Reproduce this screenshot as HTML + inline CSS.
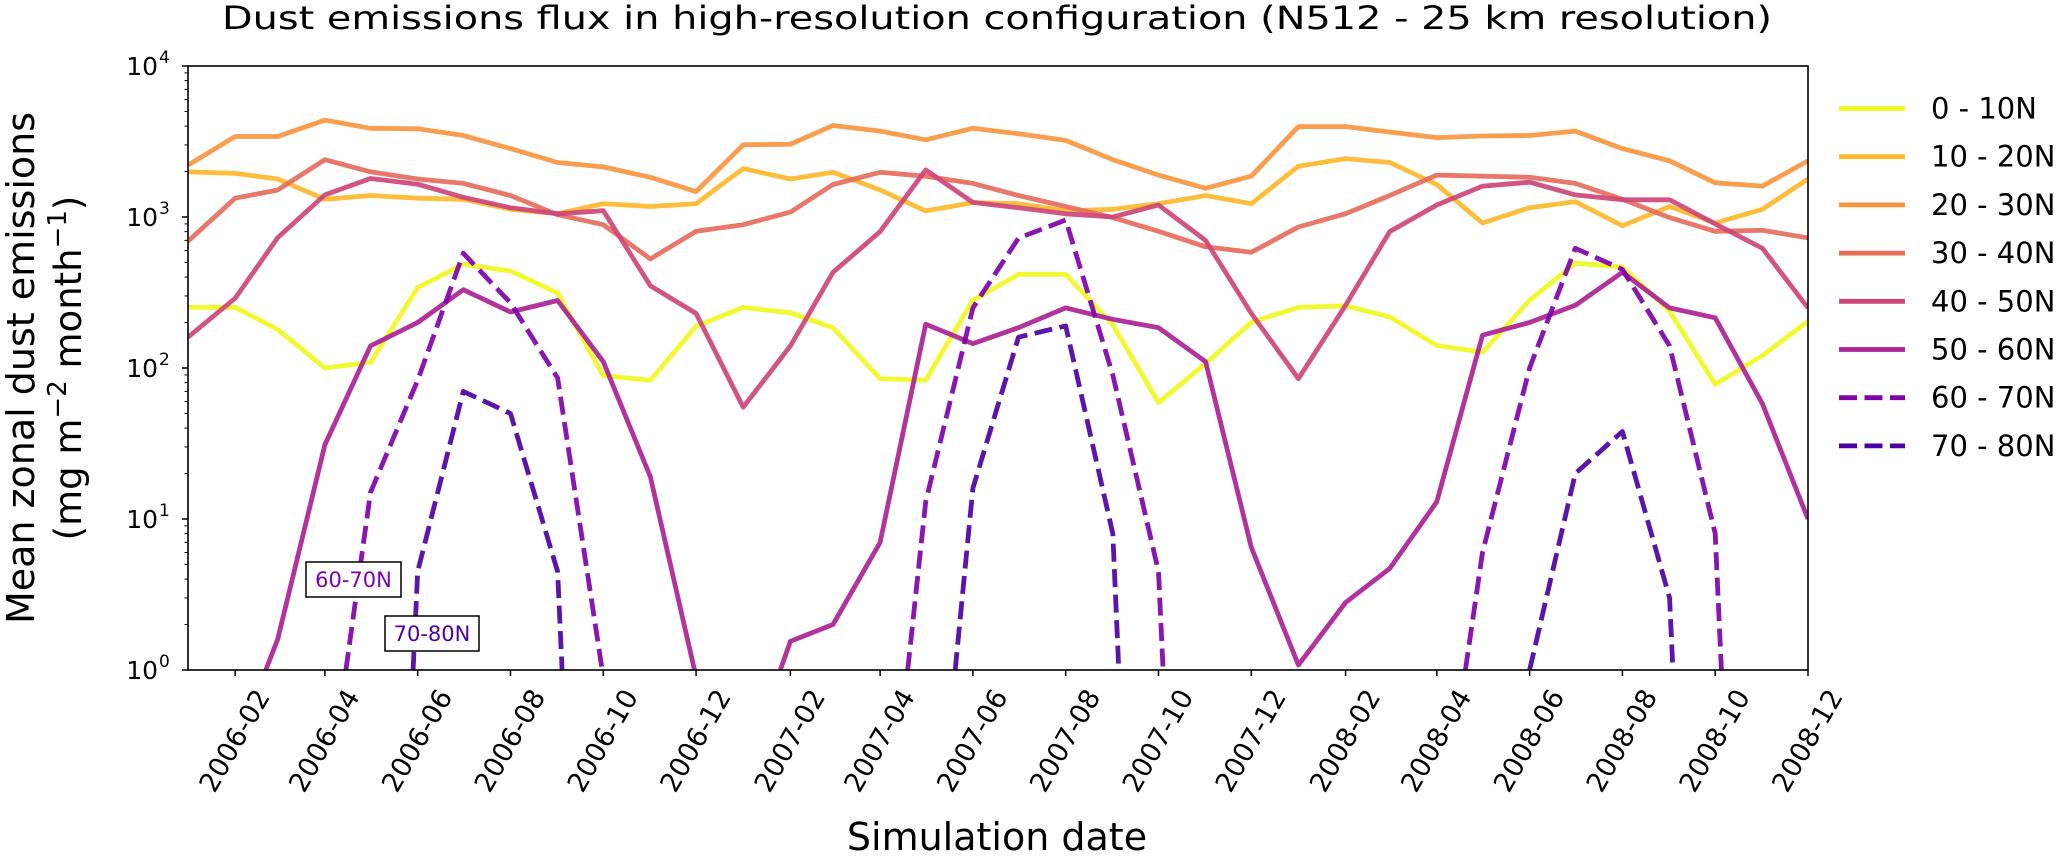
<!DOCTYPE html>
<html><head><meta charset="utf-8"><style>
html,body{margin:0;padding:0;background:#fff;overflow:hidden;width:2067px;height:864px;}
svg{display:block;}
svg text{font-family:"DejaVu Sans","Liberation Sans",sans-serif;fill:#000;}
</style></head><body>
<svg id="chart" width="2067" height="864" viewBox="0 0 2067 864" xmlns="http://www.w3.org/2000/svg">
<defs><clipPath id="plotclip"><rect x="188" y="66" width="1620" height="604"/></clipPath></defs>
<text x="997" y="29" font-size="32" text-anchor="middle" textLength="1550" lengthAdjust="spacingAndGlyphs">Dust emissions flux in high-resolution configuration (N512 - 25 km resolution)</text>
<g id="lines" clip-path="url(#plotclip)"></g>
<rect x="188" y="66" width="1620" height="604" fill="none" stroke="#000" stroke-width="1.6"/>
<g id="yaxis"></g>
<g id="xaxis"></g>
<g transform="translate(22,368) rotate(-90)">
<text x="0" y="12" font-size="38" text-anchor="middle">Mean zonal dust emissions</text>
</g>
<g transform="translate(68,368) rotate(-90)">
<text x="0" y="13" font-size="37" text-anchor="middle">(mg m<tspan dy="-15" font-size="26">−2</tspan><tspan dy="15"> month</tspan><tspan dy="-15" font-size="26">−1</tspan><tspan dy="15">)</tspan></text>
</g>
<text x="997" y="850" font-size="38" text-anchor="middle">Simulation date</text>
<g>
<rect x="306" y="562" width="95" height="35" fill="#fff" stroke="#000" stroke-width="1.5"/>
<text x="353.5" y="587" font-size="21" text-anchor="middle" style="fill:#7e03a8">60-70N</text>
</g>
<g>
<rect x="385" y="616" width="94" height="35" fill="#fff" stroke="#000" stroke-width="1.5"/>
<text x="432" y="641" font-size="21" text-anchor="middle" style="fill:#4c02a1">70-80N</text>
</g>
<g id="legend"></g>
</svg>
<script>
const seriesNames = ["0 - 10N","10 - 20N","20 - 30N","30 - 40N","40 - 50N","50 - 60N","60 - 70N","70 - 80N"];
const seriesColors = ["#f0f921","#fdb92d","#f89540","#e66c5c","#cc4778","#aa2395","#7e03a8","#4c02a1"];
const seriesDashed = [false,false,false,false,false,false,true,true];
const s0_10 = [252,252,180,100,109,341,486,439,314,89,83,189,252,232,185,85,83,281,417,417,193,59,107,201,252,258,218,141,127,281,494,466,238,78,121,204];
const s10_20 = [1992,1943,1786,1309,1388,1331,1309,1125,1052,1224,1173,1224,2095,1786,1976,1510,1097,1245,1224,1097,1125,1224,1388,1224,2168,2438,2297,1641,912,1153,1265,874,1173,912,1125,1786];
const s20_30 = [2204,3411,3411,4385,3869,3837,3467,2836,2297,2148,1832,1472,3006,3034,4035,3707,3244,3869,3556,3215,2397,1894,1549,1862,3969,3969,3648,3357,3438,3467,3707,2836,2355,1684,1601,2355];
const s30_40 = [691,1331,1510,2397,1992,1786,1670,1388,1035,889,528,804,889,1078,1641,1976,1862,1670,1388,1173,991,804,635,584,859,1052,1388,1894,1862,1832,1670,1309,991,804,817,727];
const s40_50 = [160,290,730,1400,1800,1650,1350,1150,1050,1100,350,230,55,140,430,800,2050,1250,1150,1050,1000,1200,700,230,85,260,800,1200,1600,1700,1400,1300,1300,900,620,250];
const s50_60 = [0.2,0.3,1.6,31,140,200,330,235,280,110,19,0.9,0.2,1.55,2.0,7,195,145,185,250,210,185,110,6.5,1.08,2.8,4.7,13,165,200,260,430,250,215,58,10];
const s60_70 = [1e-6,1e-6,1e-6,0.1,15,83,575,270,86,0.9,1e-6,1e-6,1e-6,1e-6,1e-6,0.02,13,250,725,955,90,4.5,1e-6,1e-6,1e-6,1e-6,1e-6,0.05,6,100,620,450,140,8,1e-6,1e-6];
const s70_80 = [1e-6,1e-6,1e-6,1e-6,1e-6,4.5,70,50,4.5,1e-6,1e-6,1e-6,1e-6,1e-6,1e-6,1e-6,0.01,16,160,190,8,1e-6,1e-6,1e-6,1e-6,1e-6,1e-6,1e-6,1e-6,1.0,20,38,3,1e-6,1e-6,1e-6];
const seriesValues = [s0_10,s10_20,s20_30,s30_40,s40_50,s50_60,s60_70,s70_80];
const xTickLabels = ["2006-02","2006-04","2006-06","2006-08","2006-10","2006-12","2007-02","2007-04","2007-06","2007-08","2007-10","2007-12","2008-02","2008-04","2008-06","2008-08","2008-10","2008-12"];
const yTickExps = [0,1,2,3,4];

const NS="http://www.w3.org/2000/svg";
const X0=188,X1=1808,Y0=670,Y1=66;
const t0=Date.UTC(2006,0,1), t1=Date.UTC(2008,11,1);
function xOfDate(y,m){return X0+(Date.UTC(y,m,1)-t0)/(t1-t0)*(X1-X0);}
function xOfIndex(i){return xOfDate(2006+Math.floor(i/12), i%12);}
function yOf(v){return Y0-(Math.log10(v)/4)*(Y0-Y1);}
function mk(tag,attrs,parent){const e=document.createElementNS(NS,tag);for(const k in attrs)e.setAttribute(k,attrs[k]);parent.appendChild(e);return e;}

function clippedPath(vals){
  let d="", penDown=false;
  for(let i=0;i<vals.length-1;i++){
    let xa=xOfIndex(i), ya=yOf(Math.max(vals[i],1e-9));
    let xb=xOfIndex(i+1), yb=yOf(Math.max(vals[i+1],1e-9));
    if(ya>Y0 && yb>Y0){penDown=false;continue;}
    let sx=xa, sy=ya, ex=xb, ey=yb;
    if(ya>Y0){const t=(ya-Y0)/(ya-yb); sx=xa+t*(xb-xa); sy=Y0;}
    if(yb>Y0){const t=(Y0-ya)/(yb-ya); ex=xa+t*(xb-xa); ey=Y0;}
    if(!penDown || ya>Y0){d+="M"+sx.toFixed(1)+","+sy.toFixed(1);}
    d+="L"+ex.toFixed(1)+","+ey.toFixed(1);
    penDown = !(yb>Y0);
  }
  return d;
}

const lines=document.getElementById('lines');
seriesValues.forEach((vals,si)=>{
  const p=mk('path',{d:clippedPath(vals),fill:'none',stroke:seriesColors[si],'stroke-width':4.8,'stroke-linejoin':'round','stroke-opacity':0.92},lines);
  if(seriesDashed[si]) p.setAttribute('stroke-dasharray','18 7.5');
  
  
});

const ya=document.getElementById('yaxis');
yTickExps.forEach(e=>{
  const y=yOf(Math.pow(10,e));
  const tk=mk('line',{x1:X0-6,x2:X0,y1:y,y2:y,stroke:'#000','stroke-width':1.5},ya);
  
  
  const t=mk('text',{x:X0-30,y:y+9,'font-size':25,'text-anchor':'end'},ya);
  t.textContent='10';
  
  
  const s=mk('text',{x:X0-29,y:y-3,'font-size':17,'text-anchor':'start'},ya);
  s.textContent=String(e);
  
  
  if(e<4){for(let k=2;k<=9;k++){const ym=yOf(k*Math.pow(10,e));
    const m=mk('line',{x1:X0-3.5,x2:X0,y1:ym,y2:ym,stroke:'#000','stroke-width':1},ya);
    
    }}
});

const xa=document.getElementById('xaxis');
xTickLabels.forEach(lbl=>{
  const [yy,mm]=lbl.split('-').map(Number);
  const x=xOfDate(yy,mm-1);
  const tk=mk('line',{x1:x,x2:x,y1:Y0,y2:Y0+6,stroke:'#000','stroke-width':1.5},xa);
  
  
  const t=mk('text',{x:0,y:0,'font-size':27,'text-anchor':'middle','dominant-baseline':'central',transform:`translate(${x.toFixed(1)},741) rotate(-60)`},xa);
  t.textContent=lbl;
  
  
});

const lg=document.getElementById('legend');
seriesNames.forEach((n,i)=>{
  const y=108.5+i*48.2;
  const l=mk('line',{x1:1839,x2:1905,y1:y,y2:y,stroke:seriesColors[i],'stroke-width':4.8},lg);
  if(seriesDashed[i]) l.setAttribute('stroke-dasharray','18 7.5');
  
  
  const t=mk('text',{x:1931,y:y+10,'font-size':29},lg);
  t.textContent=n;
  
  
});
</script>
</body></html>
